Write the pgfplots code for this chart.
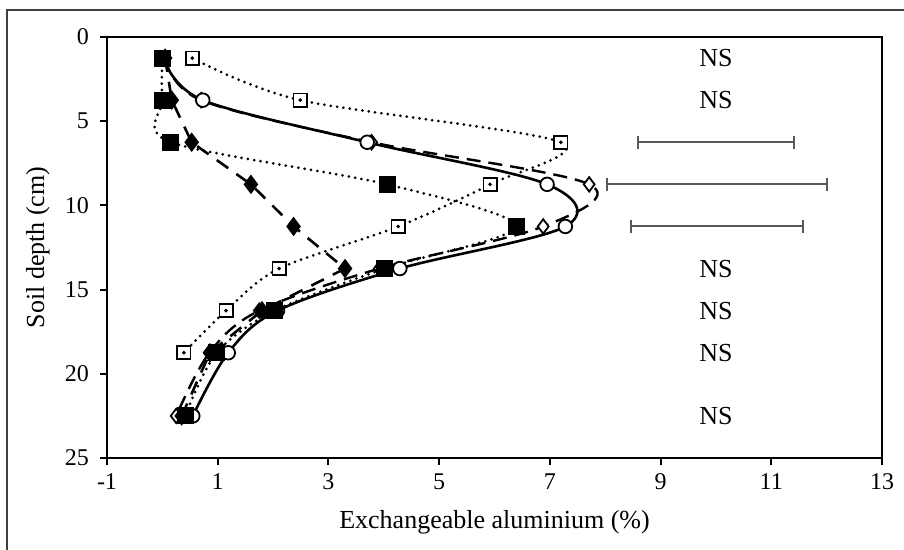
\documentclass[border=0pt]{standalone}
\usepackage{pgfplots}
\pgfplotsset{compat=1.18}
\usepackage{fontspec}
\setmainfont{Liberation Serif}
\begin{document}
\begin{tikzpicture}
\path[use as bounding box] (-53.5pt,-46pt) rectangle (398.5pt,229pt);
\draw[line width=0.6pt, black!75] (-50pt,-46pt) -- (-50pt,224pt) -- (398.5pt,224pt);
\begin{axis}[
  at={(0pt,0pt)}, anchor=south west,
  scale only axis, width=387.5pt, height=210.5pt,
  xmin=-1, xmax=13, ymin=0, ymax=25, y dir=reverse,
  xtick={-1,1,...,13}, ytick={0,5,...,25},
  xtick pos=left, ytick pos=left, tick align=outside,
  major tick length=3.5pt,
  axis line style={line width=1pt},
  every tick/.style={line width=1pt, black},
  /pgf/number format/assume math mode=true,
  ticklabel style={font=\fontsize{12}{14}\selectfont},
  yticklabel style={xshift=-2pt},
  xticklabel style={yshift=-1pt},
  xlabel={Exchangeable aluminium (\%)},
  ylabel={Soil depth (cm)},
  label style={font=\fontsize{13}{15}\selectfont},
  xlabel style={at={(axis description cs:0.5,0)}, anchor=center, yshift=-32pt},
  ylabel style={at={(axis description cs:0,0.5)}, anchor=center, xshift=0pt},
  every axis y label/.append style={at={(axis description cs:0,0.5)}, anchor=center, rotate=0, yshift=34.5pt},
  clip=false,
]
% open diamonds, dashed
\addplot[black, line width=1.2pt, dash pattern=on 7pt off 4pt, smooth, tension=0.55,
  mark=diamond*, mark size=3.6pt, mark options={solid, fill=white, line width=0.9pt}]
  coordinates {(0.05,1.25) (0.70,3.75) (3.78,6.25) (7.71,8.75) (6.88,11.25) (3.92,13.75) (1.75,16.25) (0.85,18.75) (0.25,22.5)};
% filled diamonds, long dashed
\addplot[black, line width=1.3pt, dash pattern=on 7pt off 5pt,
  mark=diamond*, mark size=3.8pt, mark options={solid, fill=black}]
  coordinates {(0.05,1.25) (0.17,3.75) (0.53,6.25) (1.60,8.75) (2.37,11.25) (3.30,13.75) (1.80,16.25) (0.86,18.75) (0.35,22.5)};
% open circles, solid
\addplot[black, line width=1.3pt, smooth, tension=0.55,
  mark=*, mark size=3.4pt, mark options={solid, fill=white, line width=0.9pt}]
  coordinates {(0.02,1.25) (0.73,3.75) (3.70,6.25) (6.95,8.75) (7.28,11.25) (4.29,13.75) (2.08,16.25) (1.19,18.75) (0.55,22.5)};
% open squares, dotted
\addplot[black, line width=1.5pt, line cap=round, dash pattern=on 0pt off 3.2pt, smooth, tension=0.5,
  mark=square*, mark size=3.3pt, mark options={solid, fill=white, line width=0.9pt}]
  coordinates {(0.54,1.25) (2.49,3.75) (7.20,6.25) (5.92,8.75) (4.26,11.25) (2.11,13.75) (1.15,16.25) (0.39,18.75)};
\addplot[black, only marks, mark=*, mark size=0.7pt]
  coordinates {(0.54,1.25) (2.49,3.75) (7.20,6.25) (5.92,8.75) (4.26,11.25) (2.11,13.75) (1.15,16.25) (0.39,18.75)};
% filled squares, dotted
\addplot[black, line width=1.5pt, line cap=round, dash pattern=on 0pt off 3.2pt, smooth, tension=0.5,
  mark=square*, mark size=3.5pt, mark options={solid, fill=black}]
  coordinates {(0.0,1.25) (0.0,3.75) (0.15,6.25) (4.06,8.75) (6.39,11.25) (4.02,13.75) (2.03,16.25) (0.98,18.75) (0.41,22.5)};
% LSD bars
\addplot[black!65, line width=1pt, mark=none, draw=none,
  error bars/.cd, x dir=both, x explicit,
  error mark=|, error mark options={black!65, line width=1pt, mark size=3.2pt, rotate=0},
  error bar style={black!65, line width=1pt}]
  coordinates {(10,6.25) +- (1.41,0) (10.02,8.75) +- (1.99,0) (10.02,11.25) +- (1.55,0)};
\node[font=\fontsize{13}{15}\selectfont] at (axis cs:10,1.25) {NS};
\node[font=\fontsize{13}{15}\selectfont] at (axis cs:10,3.75) {NS};
\node[font=\fontsize{13}{15}\selectfont] at (axis cs:10,13.75) {NS};
\node[font=\fontsize{13}{15}\selectfont] at (axis cs:10,16.25) {NS};
\node[font=\fontsize{13}{15}\selectfont] at (axis cs:10,18.75) {NS};
\node[font=\fontsize{13}{15}\selectfont] at (axis cs:10,22.5) {NS};
\end{axis}
\end{tikzpicture}
\end{document}
